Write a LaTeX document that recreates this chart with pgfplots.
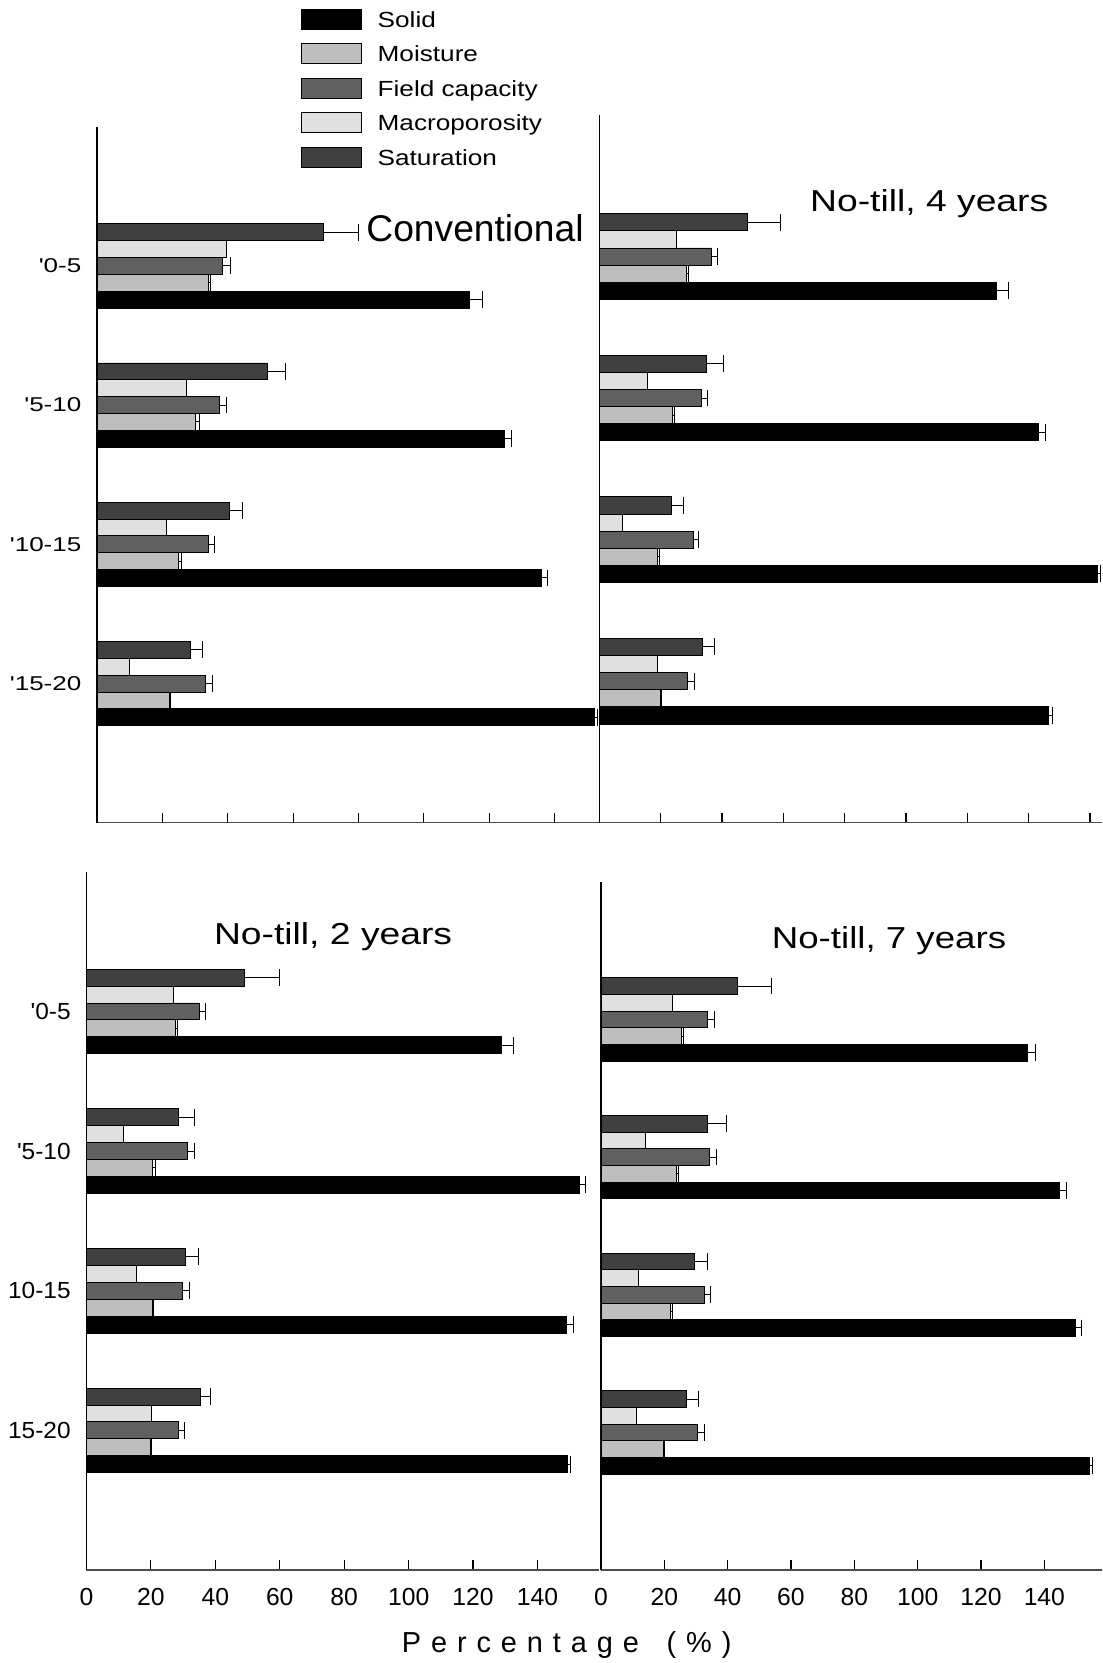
\documentclass[border=0pt]{standalone}
\usepackage{fontspec}
\setmainfont{Liberation Sans}
\usepackage{graphicx}
\usepackage{pgfplots}
\pgfplotsset{compat=1.18}
\usepackage{pgfplotstable}

\definecolor{cSolid}{HTML}{000000}
\definecolor{cMoist}{HTML}{BEBEBE}
\definecolor{cField}{HTML}{606060}
\definecolor{cMacro}{HTML}{E0E0E0}
\definecolor{cSat}{HTML}{404040}

% y: 4 = '0-5, 3 = '5-10, 2 = '10-15, 1 = '15-20
\pgfplotstableread{
y sol solE moi moiE fc fcE mac sat satE
4 114.0 3.9 34.2 0.6 38.5 2.4 39.6 69.3 10.7
3 124.5 2.4 30.1 1.3 37.4 2.2 27.3 52.0 5.8
2 135.9 1.8 24.9 0.9 34.0 1.9 21.1 40.4 4.1
1 152.3 0.8 22.2 0.3 33.3 2.0 9.9 28.6 3.7
}\tabTL
\pgfplotstableread{
y sol solE moi moiE fc fcE mac sat satE
4 129.5 3.9 28.4 0.7 36.5 2.0 25.0 48.2 10.7
3 143.2 2.3 23.9 0.7 33.3 2.0 15.6 34.9 5.7
2 162.5 1.0 19.0 0.5 30.5 1.8 7.4 23.4 4.1
1 146.4 1.2 20.0 0.3 28.7 2.2 18.8 33.7 3.7
}\tabTR
\pgfplotstableread{
y sol solE moi moiE fc fcE mac sat satE
4 128.7 3.7 27.7 0.7 35.1 2.0 27.1 48.9 10.9
3 152.9 2.1 20.5 0.9 31.4 2.0 11.6 28.4 5.2
2 148.9 2.2 20.5 0.4 29.9 2.0 15.5 30.8 4.1
1 149.4 0.9 19.9 0.3 28.6 1.7 20.3 35.3 3.3
}\tabBL
\pgfplotstableread{
y sol solE moi moiE fc fcE mac sat satE
4 134.7 2.4 25.5 0.7 33.7 2.2 22.6 43.0 10.7
3 144.7 2.2 23.7 0.7 34.4 2.0 14.0 33.7 5.8
2 149.8 2.0 22.0 0.6 32.6 2.0 11.7 29.5 4.2
1 154.2 0.9 19.7 0.3 30.4 2.2 11.3 27.0 3.8
}\tabBR

\newcommand\yT[1]{\scalebox{1.3}[1]{\fontsize{10}{12}\selectfont #1}}
\newcommand\yB[1]{\scalebox{1.05}[1]{\fontsize{11.65}{13}\selectfont #1}}
\newcommand\lgd[1]{\scalebox{1.195}[1]{#1}}

\pgfplotsset{
  panel/.style={
    scale only axis, anchor=south west,
    xmin=0, ymin=0, ymax=5,
    axis lines=left,
    axis line style={-, line width=0.6pt},
    x axis line style={black!70},
    tick align=inside, major tick length=5pt,
    xtick style={line width=0.6pt, black},
    ytick={1,2,3,4},
    ytick style={draw=none},
    clip=false,
    yticklabel style={anchor=east, inner sep=0pt, xshift=-7.65pt},
    xticklabel style={anchor=base, inner sep=0pt, yshift=-18pt, font=\fontsize{12.35}{14}\selectfont},
  },
  eb/.style={error bars/.cd, x dir=plus, x explicit,
    error mark=|,
    error bar style={line width=0.5pt, black},
    error mark options={mark size=4.2pt, line width=0.5pt, black}},
}

\newcommand\panelplots[1]{%
  \addplot[xbar, bar width=0.121, fill=cSolid, draw=black, line width=0.4pt, eb]
    table[x=sol, y expr=\thisrow{y}-0.242, x error=solE]{#1};
  \addplot[xbar, bar width=0.121, fill=cMoist, draw=black, line width=0.4pt, eb]
    table[x=moi, y expr=\thisrow{y}-0.121, x error=moiE]{#1};
  \addplot[xbar, bar width=0.121, fill=cField, draw=black, line width=0.4pt, eb]
    table[x=fc, y expr=\thisrow{y}, x error=fcE]{#1};
  \addplot[xbar, bar width=0.121, fill=cMacro, draw=black, line width=0.4pt]
    table[x=mac, y expr=\thisrow{y}+0.121]{#1};
  \addplot[xbar, bar width=0.121, fill=cSat, draw=black, line width=0.4pt, eb]
    table[x=sat, y expr=\thisrow{y}+0.242, x error=satE]{#1};
}

\begin{document}
\begin{tikzpicture}
\path[use as bounding box] (0pt,0pt) rectangle (551pt,831.5pt);

% Top left: Conventional
\begin{axis}[panel, at={(48.5pt,420.15pt)}, width=250.85pt, height=348pt,
  xmax=153.5, xtick={20,40,...,140}, xticklabels={},
  yticklabels={\yT{\textquotesingle 15-20},\yT{\textquotesingle 10-15},\yT{\textquotesingle 5-10},\yT{\textquotesingle 0-5}},
  legend entries={\lgd{Solid},\lgd{Moisture},\lgd{Field capacity},\lgd{Macroporosity},\lgd{Saturation}},
  legend cell align=left,
  legend image code/.code={\draw[#1, line width=0.5pt] (0pt,-5pt) rectangle (30.15pt,5pt);},
  legend style={at={(axis description cs:0.406,1.1694)}, anchor=north west,
    draw=none, fill=none, inner sep=0pt, outer sep=0pt, row sep=6.74pt,
    nodes={inner sep=0pt, text height=9pt, text depth=1.16pt, font=\fontsize{10.95}{12}\selectfont},
    /tikz/every odd column/.style={column sep=7.85pt}},
]
\panelplots{\tabTL}
\end{axis}

% Top right: No-till 4 years
\begin{axis}[panel, at={(299.7pt,420.15pt)}, width=251.3pt, height=353.85pt,
  xmax=163.9, xtick={20,40,...,160}, xticklabels={}, yticklabels={}]
\panelplots{\tabTR}
\end{axis}

% Bottom left: No-till 2 years
\begin{axis}[panel, at={(43.2pt,46.5pt)}, width=256.5pt, height=349.15pt,
  xmax=159.2, xtick={0,20,...,140}, xticklabels={0,20,40,60,80,100,120,140},
  yticklabels={\yB{15-20},\yB{10-15},\yB{\textquotesingle 5-10},\yB{\textquotesingle 0-5}}]
\panelplots{\tabBL}
\end{axis}

% Bottom right: No-till 7 years
\begin{axis}[panel, at={(300.45pt,46.5pt)}, width=250.55pt, height=344.15pt,
  xmax=158.2, xtick={0,20,...,140}, xticklabels={0,20,40,60,80,100,120,140}, yticklabels={}]
\panelplots{\tabBR}
\end{axis}

% Panel titles
\node[anchor=base, inner sep=0pt] at (237.5pt,710.65pt) {\fontsize{18.6}{20}\selectfont Conventional};
\node[anchor=base, inner sep=0pt] at (464.6pt,725.65pt) {\scalebox{1.23}[1]{\fontsize{15.15}{17}\selectfont No-till, 4 years}};
\node[anchor=base, inner sep=0pt] at (166.55pt,359.35pt) {\scalebox{1.23}[1]{\fontsize{15.15}{17}\selectfont No-till, 2 years}};
\node[anchor=base, inner sep=0pt] at (444.5pt,357.35pt) {\scalebox{1.21}[1]{\fontsize{15.15}{17}\selectfont No-till, 7 years}};

% Axis label
\def\ls{\kern4.95pt}
\node[anchor=base, inner sep=0pt] at (283.35pt,5.35pt) {\fontsize{14.45}{16}\selectfont P\ls e\ls r\ls c\ls e\ls n\ls t\ls a\ls g\ls e\ls\ \ls(\ls\%\ls)};
\end{tikzpicture}
\end{document}
